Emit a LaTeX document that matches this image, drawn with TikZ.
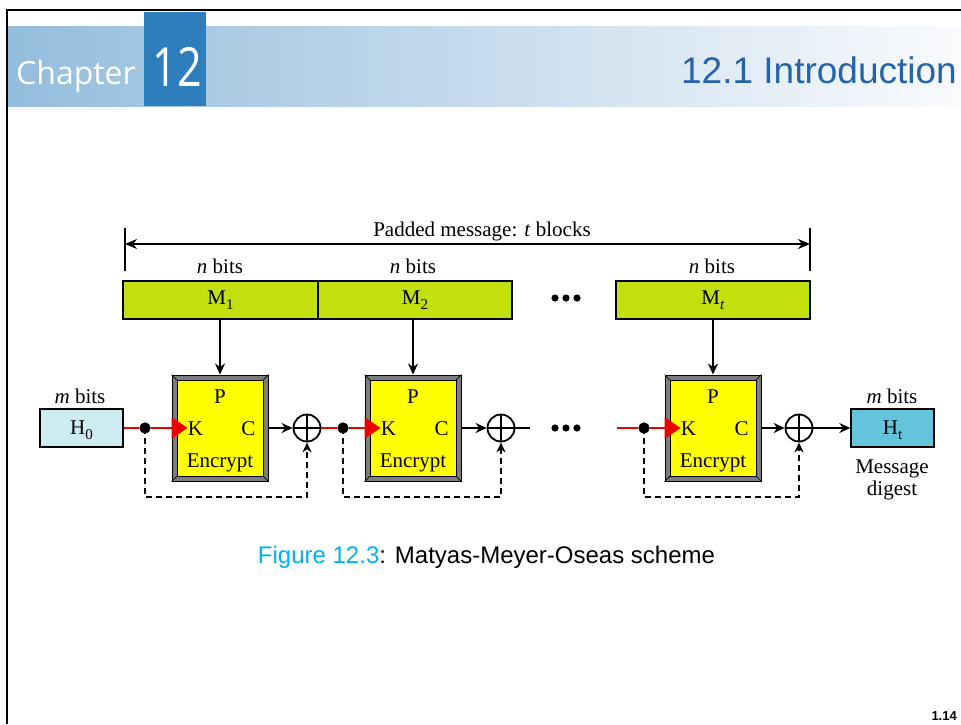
\documentclass[tikz,border=0pt]{standalone}
\usepackage{fontspec}
\setmainfont{Liberation Serif}
\newfontfamily\sansfont{Liberation Sans}
\newfontfamily\headfont{Open Sans}
\usetikzlibrary{arrows.meta,calc}

\definecolor{hdrL}{RGB}{148,189,220}
\definecolor{hdrR}{RGB}{250,251,253}
\definecolor{chapblue}{RGB}{46,126,188}
\definecolor{introblue}{RGB}{38,100,170}
\definecolor{figcyan}{RGB}{0,176,240}
\definecolor{mgreen}{RGB}{193,224,14}
\definecolor{hzero}{RGB}{204,236,242}
\definecolor{hlast}{RGB}{99,196,219}
\definecolor{encyellow}{RGB}{255,255,0}
\definecolor{framegray}{RGB}{125,125,125}
\definecolor{keyred}{RGB}{235,0,0}

\newcommand\lowidx[1]{\raisebox{-0.28em}{\fontsize{15}{15}\selectfont #1}}

\begin{document}
\begin{tikzpicture}[x=1pt,y=-1pt,
  txt/.style={font=\fontsize{21}{24}\selectfont, inner sep=0pt},
  blockbox/.style={draw=black, line width=1.4pt, fill=mgreen, minimum width=195pt, minimum height=38pt, inner sep=0pt},
  hbox/.style={draw=black, line width=1.4pt, minimum width=83pt, minimum height=38pt, inner sep=0pt},
  encbox/.style={draw=black, line width=1pt, fill=framegray, minimum width=96pt, minimum height=106pt, inner sep=0pt},
  xorsym/.style={circle, draw=black, line width=1.8pt, fill=white, minimum size=27pt, inner sep=0pt,
    path picture={\draw[line width=1.3pt] (path picture bounding box.north) -- (path picture bounding box.south)
                  (path picture bounding box.west) -- (path picture bounding box.east);}},
  joint/.style={circle, fill=black, minimum size=11pt, inner sep=0pt},
  arr/.style={line width=1.9pt, -{Stealth[length=11pt,width=10pt]}},
  plain/.style={line width=1.9pt},
  keyline/.style={line width=2pt, keyred},
  fb/.style={line width=1.8pt, dash pattern=on 6pt off 4pt, -{Stealth[length=10pt,width=9pt]}},
  tick/.style={line width=1.4pt}]

\useasboundingbox (0,0) rectangle (961,724);

% ---- slide header ----
\shade[left color=hdrL, right color=hdrR] (8,26) rectangle (961,106);
\fill[chapblue] (144,12) rectangle (206,106);
\draw[line width=2.8pt] (7,724) -- (7,10) -- (961,10);
\node[anchor=base west, text=white, inner sep=0pt, font=\headfont\fontsize{32}{32}\selectfont] (chap) at (16,84) {Chapter};
\node[anchor=base, text=white, inner sep=0pt, xscale=0.8, font=\headfont\fontsize{54}{54}\selectfont] (chapnum) at (177,86) {12};
\node[anchor=base east, text=introblue, inner sep=0pt, font=\sansfont\fontsize{37}{37}\selectfont] (title) at (957,83) {12.1 Introduction};

% ---- padded message span ----
\coordinate (spanL) at (125,244);
\coordinate (spanR) at (810,244);
\draw[tick] (125,228) -- (125,271);
\draw[tick] (810,228) -- (810,271);
\draw[line width=1.5pt, {Stealth[length=12pt,width=10pt]}-{Stealth[length=12pt,width=10pt]}] (spanL) -- (spanR);
\node[txt, anchor=base] (padlbl) at (482,236) {Padded message: \textit{t} blocks};

% ---- message blocks ----
\node[blockbox] (m1) at (220.5,300) {};
\node[blockbox, minimum width=194pt] (m2) at (415,300) {};
\node[blockbox, minimum width=194pt] (mt) at (713,300) {};
\node[txt, anchor=base] (m1lbl) at (220.5,304) {M\lowidx{1}};
\node[txt, anchor=base] (m2lbl) at (415,304) {M\lowidx{2}};
\node[txt, anchor=base] (mtlbl) at (713,304) {M\lowidx{\textit{t}}};
\node[txt, anchor=base] (nb1) at (220,273) {\textit{n} bits};
\node[txt, anchor=base] (nb2) at (413,273) {\textit{n} bits};
\node[txt, anchor=base] (nb3) at (712,273) {\textit{n} bits};
\foreach \i/\xx in {1/555,2/566,3/577}
  \fill (\xx,298) circle (3.6pt);

% ---- chaining values ----
\node[hbox, fill=hzero] (h0) at (81.5,428) {};
\node[txt, anchor=base] (h0lbl) at (81.5,434) {H\lowidx{0}};
\node[txt, anchor=base] (h0bits) at (80,403) {\textit{m} bits};
\node[hbox, fill=hlast] (ht) at (892.5,428) {};
\node[txt, anchor=base] (htlbl) at (892.5,434) {H\lowidx{t}};
\node[txt, anchor=base] (htbits) at (892,403) {\textit{m} bits};
\node[txt, anchor=base] (md1) at (892,473) {Message};
\node[txt, anchor=base] (md2) at (892,495) {digest};

% ---- encryption stages ----
\node[encbox] (enc1) at (220,428) {};
\node[encbox] (enc2) at (413,428) {};
\node[encbox] (enc3) at (713,428) {};
\foreach \e in {enc1,enc2,enc3}{
  \draw[fill=encyellow, line width=1pt] ([shift={(5.5,5.5)}]\e.north west) rectangle ([shift={(-5.5,-5.5)}]\e.south east);
  \draw[line width=0.7pt] (\e.north west) -- ++(5.5,5.5) (\e.north east) -- ++(-5.5,5.5)
                          (\e.south west) -- ++(5.5,-5.5) (\e.south east) -- ++(-5.5,-5.5);
  \node[txt, anchor=base] (\e-p) at ($(\e.center)+(0,-25)$) {P};
  \node[txt, anchor=base] (\e-k) at ($(\e.west)+(24,7)$) {K};
  \node[txt, anchor=base] (\e-c) at ($(\e.east)+(-20,7)$) {C};
  \node[txt, anchor=base] (\e-name) at ($(\e.center)+(0,39)$) {Encrypt};
}

% ---- joints and xor units ----
\node[joint] (d1) at (145,428) {};
\node[joint] (d2) at (343,428) {};
\node[joint] (d3) at (644,428) {};
\node[xorsym] (x1) at (307,428) {};
\node[xorsym] (x2) at (501,428) {};
\node[xorsym] (x3) at (799,428) {};
\coordinate (gapL) at (530,428);
\coordinate (gapR) at (617,428);
\foreach \i/\xx in {1/555,2/566,3/577}
  \fill (\xx,428) circle (3.6pt);

% ---- message inputs ----
\draw[arr] (m1.south -| enc1.north) -- (enc1.north);
\draw[arr] (m2.south -| enc2.north) -- (enc2.north);
\draw[arr] (mt.south -| enc3.north) -- (enc3.north);

% ---- chaining path ----
\draw[keyline] (h0.east) -- (d1) -- (enc1.west);
\draw[arr] (enc1.east) -- (x1.west);
\draw[keyline] (x1.east) -- (d2) -- (enc2.west);
\draw[arr] (enc2.east) -- (x2.west);
\draw[plain] (x2.east) -- (gapL);
\draw[keyline] (gapR) -- (d3) -- (enc3.west);
\draw[arr] (enc3.east) -- (x3.west);
\draw[arr] (x3.east) -- (ht.west);
\foreach \e in {enc1,enc2,enc3}
  \fill[keyred] ($(\e.west)+(0,-11)$) -- ($(\e.west)+(16,0)$) -- ($(\e.west)+(0,11)$) -- cycle;

% ---- feed-forward ----
\draw[fb] (d1.center) -- ++(0,69) -| (x1.south);
\draw[fb] (d2.center) -- ++(0,69) -| (x2.south);
\draw[fb] (d3.center) -- ++(0,69) -| (x3.south);
\node[joint] at (d1) {};
\node[joint] at (d2) {};
\node[joint] at (d3) {};

% ---- caption and page number ----
\node[anchor=base, inner sep=0pt, font=\sansfont\fontsize{24}{24}\selectfont] (caption) at (486.5,563)
  {\textcolor{figcyan}{Figure 12.3}: Matyas-Meyer-Oseas scheme};
\node[anchor=base east, inner sep=0pt, font=\sansfont\bfseries\fontsize{13}{13}\selectfont] (pageno) at (957,720) {1.14};
\end{tikzpicture}
\end{document}
